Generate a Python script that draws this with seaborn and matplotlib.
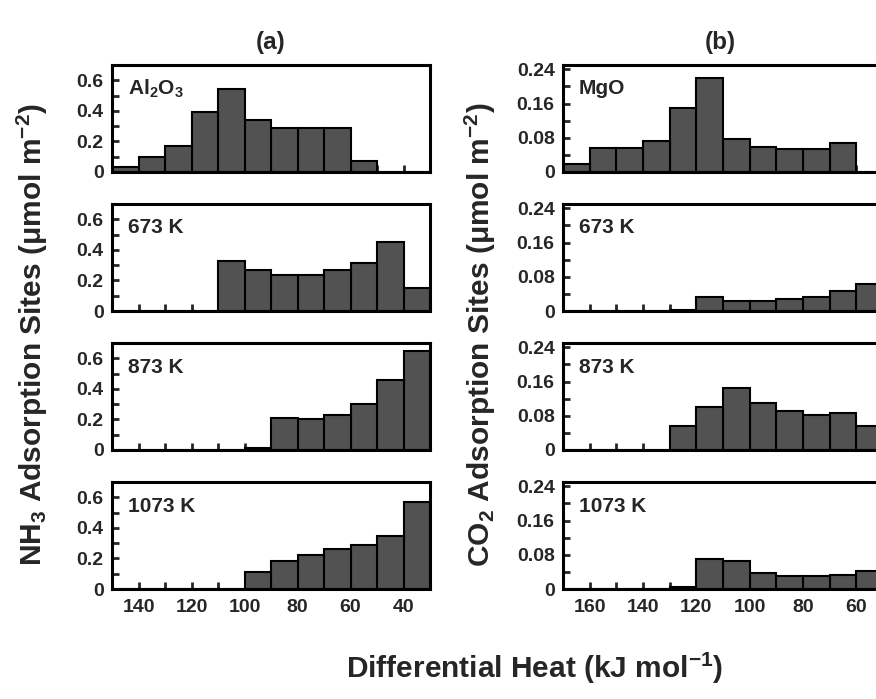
import matplotlib
matplotlib.use("Agg")
import numpy as np
import matplotlib.pyplot as plt
import seaborn as sns
from matplotlib.ticker import MultipleLocator, FuncFormatter

sns.set_theme(style="ticks")
plt.rcParams['font.family'] = ['Liberation Sans', 'DejaVu Sans']
plt.rcParams['font.weight'] = 'bold'
plt.rcParams['mathtext.fontset'] = 'custom'
plt.rcParams['mathtext.rm'] = 'Liberation Sans:bold'
plt.rcParams['mathtext.bf'] = 'Liberation Sans:bold'
plt.rcParams['mathtext.it'] = 'Liberation Sans:bold'
plt.rcParams['mathtext.default'] = 'rm'

# bin edges (kJ/mol), high to low
edges_a = [150, 140, 130, 120, 110, 100, 90, 80, 70, 60, 50, 40, 30]
edges_b = [170, 160, 150, 140, 130, 120, 110, 100, 90, 80, 70, 60, 50]

# (a) NH3 adsorption sites, one value per bin
al2o3 = [0.03, 0.10, 0.17, 0.39, 0.54, 0.34, 0.29, 0.29, 0.29, 0.07, 0, 0]
nh3_673 = [0, 0, 0, 0, 0.33, 0.27, 0.235, 0.235, 0.265, 0.315, 0.45, 0.15]
nh3_873 = [0, 0, 0, 0, 0, 0.015, 0.21, 0.20, 0.23, 0.30, 0.46, 0.65]
nh3_1073 = [0, 0, 0, 0, 0, 0.11, 0.18, 0.22, 0.26, 0.29, 0.35, 0.57]

# (b) CO2 adsorption sites
mgo = [0.019, 0.056, 0.056, 0.073, 0.15, 0.22, 0.078, 0.058, 0.054, 0.054, 0.068, 0]
co2_673 = [0, 0, 0, 0, 0.002, 0.033, 0.023, 0.023, 0.027, 0.033, 0.047, 0.062]
co2_873 = [0, 0, 0, 0, 0.056, 0.10, 0.146, 0.109, 0.091, 0.082, 0.087, 0.055]
co2_1073 = [0, 0, 0, 0, 0.004, 0.07, 0.066, 0.037, 0.031, 0.03, 0.033, 0.043]

labels_a = ['Al$_2$O$_3$', '673 K', '873 K', '1073 K']
labels_b = ['MgO', '673 K', '873 K', '1073 K']
series_a = [al2o3, nh3_673, nh3_873, nh3_1073]
series_b = [mgo, co2_673, co2_873, co2_1073]

W, H = 876, 699
fig = plt.figure(figsize=(W / 100, H / 100), dpi=100)

tops = [65, 204, 343, 482]
ph = 107
bar_color = '#525252'


def draw_panel(ax, edges, vals, label, ymax, ymaj, ymin, bottom):
    centers = [(edges[i] + edges[i + 1]) / 2 for i in range(len(vals))]
    sns.histplot(x=centers, weights=vals, bins=sorted(edges), ax=ax,
                 color=bar_color, edgecolor='black', linewidth=1.5, alpha=1)
    ax.set_xlim(edges[0], edges[-1])
    ax.set_ylim(0, ymax)
    ax.set_xlabel('')
    ax.set_ylabel('')
    ax.xaxis.set_major_locator(MultipleLocator(20))
    ax.xaxis.set_minor_locator(MultipleLocator(10))
    ax.yaxis.set_major_locator(MultipleLocator(ymaj))
    ax.yaxis.set_minor_locator(MultipleLocator(ymin))
    ax.yaxis.set_major_formatter(FuncFormatter(lambda v, _: '0' if abs(v) < 1e-9 else f'{v:g}'))
    ax.tick_params(which='both', direction='in', length=5, width=2,
                   top=False, right=False, labelsize=14)
    ax.tick_params(axis='y', pad=6)
    ax.tick_params(axis='x', pad=7)
    if not bottom:
        ax.tick_params(axis='x', labelbottom=False)
    for s in ax.spines.values():
        s.set_linewidth(2.2)
        s.set_color('black')
    ax.text(0.05, 1 - 24 / ph, label, transform=ax.transAxes,
            fontsize=15, fontweight='bold', va='center', ha='left')


for i in range(4):
    y0 = 1 - (tops[i] + ph) / H
    ax = fig.add_axes([112 / W, y0, 318 / W, ph / H])
    draw_panel(ax, edges_a, series_a[i], labels_a[i], 0.7, 0.2, 0.1, i == 3)
    axb = fig.add_axes([563 / W, y0, 320 / W, ph / H])
    draw_panel(axb, edges_b, series_b[i], labels_b[i], 0.25, 0.08, 0.04, i == 3)

fig.text(271 / W, 1 - 42 / H, '(a)', fontsize=17.5, fontweight='bold', ha='center', va='center')
fig.text(720 / W, 1 - 42 / H, '(b)', fontsize=17.5, fontweight='bold', ha='center', va='center')
fig.text(32 / W, 1 - 335 / H, 'NH$_3$ Adsorption Sites (\u03bcmol m$^{-2}$)', rotation=90,
         fontsize=21.5, fontweight='bold', ha='center', va='center')
fig.text(480 / W, 1 - 335 / H, 'CO$_2$ Adsorption Sites (\u03bcmol m$^{-2}$)', rotation=90,
         fontsize=21.5, fontweight='bold', ha='center', va='center')
fig.text(535 / W, 1 - 668 / H, 'Differential Heat (kJ mol$^{-1}$)', fontsize=21.5,
         fontweight='bold', ha='center', va='center')

fig.savefig('out.png', dpi=100)
